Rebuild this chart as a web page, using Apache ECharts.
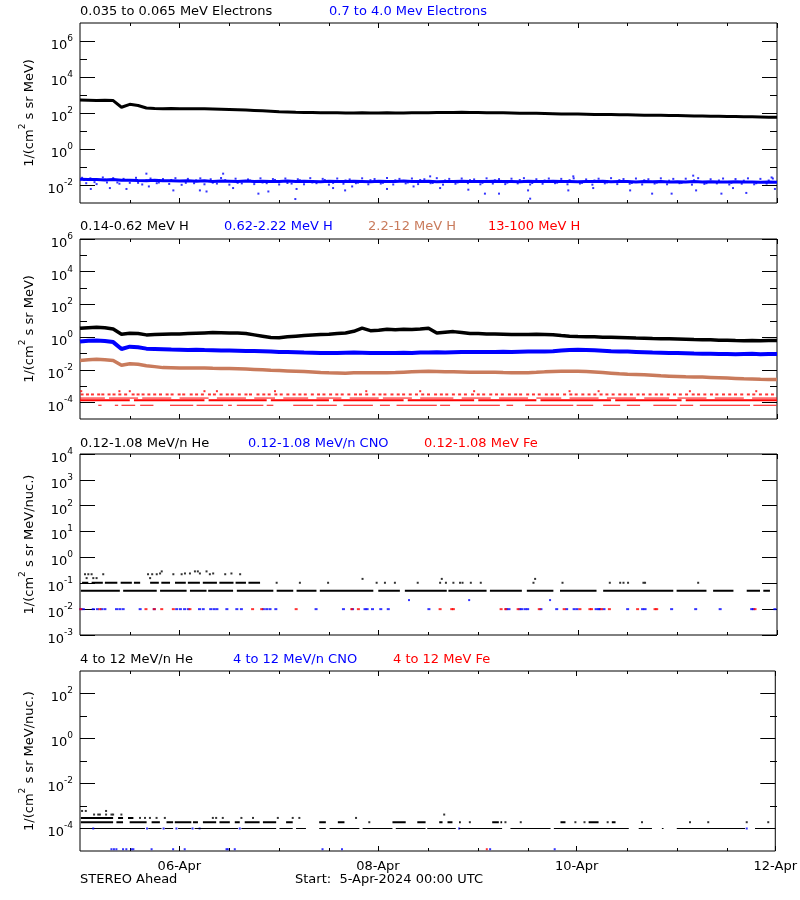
<!DOCTYPE html>
<html><head><meta charset="utf-8">
<script src="https://cdn.jsdelivr.net/npm/echarts@6/dist/echarts.min.js"></script>
<style>html,body{margin:0;padding:0;background:#fff}#c{width:800px;height:900px}</style>
</head><body><div id="c"></div>
<script>
// ---------------- DATA (log10 of flux; x in hours since 5-Apr-2024 00:00 UTC) ----------------
const STEP_H = 2;           // sampling of the continuous series (hours)
const X_MAX_H = 168;        // 7 days

const xLabelHours = [24, 72, 120, 168];
const xLabelTexts = ['06-Apr', '08-Apr', '10-Apr', '12-Apr'];
const xMinorHours = [12, 36, 48, 60, 84, 96, 108, 132, 144, 156];

const panelTitles = [
  [['0.035 to 0.065 MeV Electrons', 'k'], ['0.7 to 4.0 Mev Electrons', 'b']],
  [['0.14-0.62 MeV H', 'k'], ['0.62-2.22 MeV H', 'b'], ['2.2-12 MeV H', 'o'], ['13-100 MeV H', 'r']],
  [['0.12-1.08 MeV/n He', 'k'], ['0.12-1.08 MeV/n CNO', 'b'], ['0.12-1.08 MeV Fe', 'r']],
  [['4 to 12 MeV/n He', 'k'], ['4 to 12 MeV/n CNO', 'b'], ['4 to 12 MeV Fe', 'r']]
];
const footerLeft = 'STEREO Ahead';
const footerMid = 'Start:  5-Apr-2024 00:00 UTC';

// Panel 1: electrons
const elecLow = [
  2.72, 2.71, 2.70, 2.71, 2.69, 2.32, 2.48, 2.42, 2.28, 2.25, 2.24, 2.25,
  2.24, 2.23, 2.24, 2.23, 2.22, 2.21, 2.20, 2.18, 2.16, 2.14, 2.12, 2.10,
  2.07, 2.06, 2.04, 2.03, 2.03, 2.02, 2.01, 2.01, 2.00, 2.00, 2.01, 2.00,
  2.00, 2.01, 2.00, 2.00, 2.01, 2.02, 2.02, 2.03, 2.03, 2.03, 2.04, 2.03,
  2.03, 2.02, 2.02, 2.01, 2.00, 1.99, 1.98, 1.98, 1.97, 1.96, 1.95, 1.95,
  1.94, 1.93, 1.92, 1.91, 1.91, 1.90, 1.90, 1.89, 1.88, 1.88, 1.87, 1.86,
  1.86, 1.85, 1.84, 1.83, 1.82, 1.82, 1.81, 1.80, 1.79, 1.79, 1.78, 1.77,
  1.76
];
const elecHigh = [
  -1.68, -1.70, -1.69, -1.72, -1.70, -1.74, -1.73, -1.75, -1.76, -1.74, -1.77, -1.76,
  -1.78, -1.76, -1.79, -1.77, -1.80, -1.78, -1.79, -1.81, -1.78, -1.80, -1.79, -1.81,
  -1.80, -1.78, -1.81, -1.79, -1.80, -1.82, -1.79, -1.80, -1.81, -1.79, -1.80, -1.82,
  -1.79, -1.81, -1.80, -1.78, -1.81, -1.80, -1.79, -1.82, -1.80, -1.81, -1.79, -1.80,
  -1.81, -1.80, -1.79, -1.81, -1.80, -1.82, -1.79, -1.81, -1.80, -1.79, -1.81, -1.80,
  -1.82, -1.80, -1.81, -1.79, -1.82, -1.80, -1.81, -1.83, -1.80, -1.82, -1.81, -1.83,
  -1.82, -1.84, -1.81, -1.83, -1.82, -1.84, -1.83, -1.82, -1.84, -1.83, -1.85, -1.84,
  -1.85
];
const elecHighSpread = [
  [0.5,-1.6],[1.5,-1.9],[2.5,-1.63],[4,-1.95],[5.5,-1.58],[6.5,-1.86],[8,-1.62],[9.5,-1.93],[10.5,-1.66],[12,-1.88],
  [13.5,-1.6],[15,-1.97],[17,-1.64],[18.5,-1.9],[20,-1.67],[21.5,-1.94],[23,-1.62],[24.5,-1.99],[26,-1.66],[27.5,-1.9],
  [29,-1.63],[30,-1.96],[31.5,-1.68],[33,-1.92],[34,-1.61],[36,-1.98],[37.5,-1.65],[39,-1.91],[40.5,-1.69],[42,-1.95],
  [43.5,-1.63],[45,-1.9],[46.5,-1.67],[48,-1.97],[49.5,-1.64],[51,-1.92],[52.5,-1.68],[54,-1.96],[55.5,-1.62],[57,-1.9],
  [58.5,-1.66],[60,-1.98],[62,-1.64],[63.5,-1.93],[65,-1.69],[66.5,-1.9],[68,-1.63],[69.5,-1.96],[71,-1.67],[72.5,-1.92],
  [74,-1.61],[75.5,-1.97],[77,-1.66],[78.5,-1.91],[80,-1.64],[81.5,-1.95],[83,-1.68],[84.5,-1.9],[86,-1.62],[87.5,-1.98],
  [89,-1.66],[90.5,-1.93],[92,-1.64],[93.5,-1.9],[95,-1.69],[96.5,-1.96],[98,-1.63],[99.5,-1.92],[101,-1.67],[102.5,-1.95],
  [104,-1.65],[105.5,-1.91],[107,-1.62],[108.5,-1.97],[110,-1.68],[111.5,-1.93],[113,-1.64],[114.5,-1.9],[116,-1.66],[117.5,-1.96],
  [119,-1.63],[120.5,-1.92],[122,-1.69],[123.5,-1.98],[125,-1.65],[126.5,-1.91],[128,-1.62],[129.5,-1.95],[131,-1.67],[132.5,-1.93],
  [134,-1.64],[135.5,-1.97],[137,-1.68],[138.5,-1.92],[140,-1.63],[141.5,-1.96],[143,-1.66],[144.5,-1.9],[146,-1.65],[147.5,-1.98],
  [149,-1.62],[150.5,-1.94],[152,-1.68],[153.5,-1.91],[155,-1.64],[156.5,-1.97],[158,-1.67],[159.5,-1.93],[161,-1.63],[162.5,-1.96],
  [164,-1.66],[165.5,-1.92],[167,-1.64],
  [1,-1.72],[3.5,-1.84],[6,-1.7],[9,-1.86],[11.5,-1.72],[14,-1.88],[16,-1.74],[19,-1.86],[22,-1.72],[25.5,-1.88],
  [28,-1.74],[32,-1.87],[35,-1.73],[38,-1.88],[41,-1.75],[44,-1.86],[47,-1.72],[50,-1.89],[53,-1.74],[56,-1.86],
  [59,-1.72],[61,-1.88],[64,-1.75],[67,-1.87],[70,-1.73],[73,-1.88],[76,-1.74],[79,-1.86],[82,-1.72],[85,-1.89],
  [88,-1.75],[91,-1.86],[94,-1.73],[97,-1.88],[100,-1.74],[103,-1.87],[106,-1.72],[109,-1.89],[112,-1.75],[115,-1.87],
  [118,-1.73],[121,-1.88],[124,-1.75],[127,-1.86],[130,-1.73],[133,-1.89],[136,-1.74],[139,-1.87],[142,-1.76],[145,-1.88],
  [148,-1.74],[151,-1.9],[154,-1.75],[157,-1.88],[160,-1.76],[163,-1.9],[166,-1.75]
];
const elecHighOutliers = [
  [2.6,-2.22],[7.2,-2.17],[11.2,-2.22],[16.6,-2.08],[22.5,-2.3],[28.9,-2.3],[30.5,-2.36],[36.9,-2.17],[43,-2.48],[45.4,-2.36],
  [52.2,-2.22],[51.9,-2.78],[61,-2.17],[63.9,-2.3],[65.6,-2.08],[74,-2.22],[80.4,-2.08],[86.8,-2.17],[93.6,-2.26],[97.6,-2.48],
  [101,-2.48],[108.5,-2.76],[108,-2.3],[117.7,-2.3],[123.7,-2.17],[132.6,-2.3],[137.9,-2.48],[142.6,-2.48],[148.5,-2.3],[154.6,-2.48],
  [157.4,-2.17],[160.6,-2.44],[167.5,-2.22],[16,-1.37],[34.5,-1.37],[84.4,-1.52],[118.9,-1.52],[147.8,-1.48],[166.7,-1.58]
];

// Panel 2: protons
const hLow = [
  0.55, 0.58, 0.60, 0.57, 0.50, 0.18, 0.24, 0.22, 0.14, 0.16, 0.18, 0.20,
  0.20, 0.22, 0.24, 0.26, 0.28, 0.27, 0.26, 0.25, 0.22, 0.14, 0.06, -0.02,
  -0.04, 0.02, 0.06, 0.10, 0.13, 0.16, 0.18, 0.22, 0.26, 0.36, 0.55, 0.40,
  0.42, 0.48, 0.46, 0.48, 0.47, 0.50, 0.55, 0.26, 0.30, 0.34, 0.28, 0.22,
  0.22, 0.20, 0.19, 0.18, 0.16, 0.17, 0.16, 0.18, 0.17, 0.15, 0.10, 0.06,
  0.04, 0.03, 0.02, 0.00, -0.01, -0.02, -0.03, -0.05, -0.06, -0.08, -0.09, -0.10,
  -0.11, -0.12, -0.14, -0.15, -0.16, -0.18, -0.19, -0.21, -0.22, -0.21, -0.22, -0.20,
  -0.20
];
const hMid = [
  -0.27, -0.22, -0.20, -0.24, -0.30, -0.72, -0.58, -0.62, -0.70, -0.72, -0.74, -0.76,
  -0.77, -0.78, -0.77, -0.79, -0.80, -0.81, -0.82, -0.83, -0.84, -0.85, -0.86, -0.88,
  -0.90, -0.91, -0.92, -0.94, -0.95, -0.96, -0.97, -0.96, -0.95, -0.94, -0.95, -0.96,
  -0.97, -0.96, -0.97, -0.95, -0.96, -0.94, -0.93, -0.92, -0.93, -0.92, -0.91, -0.91,
  -0.90, -0.91, -0.90, -0.89, -0.90, -0.89, -0.88, -0.88, -0.87, -0.86, -0.82, -0.78,
  -0.77, -0.78, -0.80, -0.83, -0.86, -0.87, -0.88, -0.90, -0.92, -0.94, -0.95, -0.96,
  -0.97, -0.98, -1.00, -1.01, -1.02, -1.03, -1.03, -1.04, -1.03, -1.02, -1.04, -1.03,
  -1.03
];
const hHigh = [
  -1.42, -1.38, -1.35, -1.38, -1.42, -1.72, -1.62, -1.66, -1.74, -1.80, -1.86, -1.87,
  -1.88, -1.88, -1.89, -1.88, -1.90, -1.91, -1.92, -1.93, -1.95, -1.97, -1.99, -2.02,
  -2.04, -2.06, -2.08, -2.10, -2.13, -2.16, -2.18, -2.19, -2.20, -2.18, -2.17, -2.18,
  -2.18, -2.17, -2.16, -2.14, -2.12, -2.10, -2.08, -2.09, -2.11, -2.12, -2.13, -2.14,
  -2.14, -2.15, -2.14, -2.16, -2.17, -2.18, -2.17, -2.15, -2.12, -2.10, -2.08, -2.08,
  -2.08, -2.10, -2.13, -2.16, -2.20, -2.24, -2.27, -2.28, -2.30, -2.33, -2.36, -2.38,
  -2.40, -2.42, -2.43, -2.44, -2.46, -2.48, -2.50, -2.52, -2.54, -2.55, -2.57, -2.58,
  -2.59
];
// 13-100 MeV H: quantized count levels (log10 flux) with their hour-segments / single hours
const hTopLevels = [-4.16, -3.86, -3.72, -3.5, -3.3];
const hTopSegL0 = [[4.4,5.2],[8.4,9.2],[10,13.3],[14.5,17.7],[21.7,27.3],[28.1,34.5],[35.7,36.6],[37.8,44.2],[45,46.6],[51.4,56.2],[57,61.9],[63.5,70.6],[72.3,74.7],[76.3,86],[86.8,89.2],[91.6,101.2],[102.8,104.4],[107.3,118.9],[119.7,123.7],[126.1,130.2],[131.8,135],[138.2,143.8],[144.6,147.8],[149.4,161.5],[162.3,167.9]];
const hTopSegL1 = [[0,12],[13,30],[31,45],[46,60],[61,78],[79,95],[96,110],[111,128],[129,145],[146,168]];
const hTopSegL2 = [[0,6],[7,14],[15,22],[24,31],[33,40],[42,47],[49,55],[57,63],[65,72],[73,80],[82,90],[92,99],[101,108],[110,116],[118,125],[127,134],[136,142],[144,151],[153,160],[162,168]];
const hTopDotsL3 = [0.5,1.8,3,4.5,5.5,7,8.2,9.6,11,12.8,14,15.2,16.6,18,19.4,21,22.2,23.9,25,26.8,28.1,29.5,31.2,32.4,34,35.5,36.7,38.4,40,41.1,42.9,44.3,45.6,47.2,48.5,50.1,51.6,53,54.3,56,57.5,58.8,60.4,61.9,63.2,64.8,66.4,67.6,69.1,70.8,72.3,73.5,75.2,76.7,78,79.6,81.1,82.6,84,85.7,87.1,88.4,90,91.5,92.9,94.6,96,97.3,99,100.4,101.8,103.5,105,106.2,107.9,109.3,110.7,112.4,113.8,115.1,116.8,118.3,119.6,121.2,122.7,124.1,125.6,127,128.5,130.1,131.4,132.9,134.5,135.8,137.4,138.9,140.2,141.8,143.3,144.7,146.2,147.8,149.1,150.6,152.2,153.5,155.1,156.6,158,159.5,161.1,162.4,164,165.5,166.9];
const hTopDotsL4 = [0.3,9.5,12,30,33,47,69,82,95,118,125,147,163];

// Panel 3: 0.12-1.08 MeV/n heavy ions
const heLevels = [-1.29, -0.98];
const heSegL0 = [[0.2,9.6],[10.4,18.5],[19.3,25.7],[26.5,30.5],[30.9,36.9],[37.8,46.6],[47.4,51.4],[52.2,57],[57.8,70.7],[71.9,77.1],[78.3,88.4],[88.8,98],[98.8,106.5],[107.7,114.1],[115.7,124.5],[126.1,143],[143.8,151],[152.6,157.5],[160.7,163.9],[164.7,166.3]];
const heSegL1 = [[0.5,2],[2.8,5.5],[6,9],[9.8,12.5],[13,14.5],[16.9,19],[19.6,21.7],[22.9,25.5],[26,28.9],[29.6,33],[33.6,37],[37.5,40],[40.6,43.4]];
const heDotsL1 = [47.4,53,59.8,71.5,73.5,75.9,81.4,86.8,88.2,90,91.6,92.2,94.2,96.6,109.3,116.3,127.7,130.2,131,132.1,135.8,136.2,149];
const heUpper = [[1.2,-0.65],[2,-0.65],[2.8,-0.65],[5.6,-0.65],[16.4,-0.65],[17.4,-0.65],[18.5,-0.65],[19.3,-0.62],[22.5,-0.65],[24.5,-0.65],[25.3,-0.62],[26.5,-0.62],[27.7,-0.54],[28.4,-0.54],[28.9,-0.62],[30.5,-0.54],[31.3,-0.65],[32.1,-0.62],[35,-0.65],[36.5,-0.62],[38.6,-0.65],[1.6,-0.8],[3.2,-0.8],[4,-0.8],[16.9,-0.8],[19.7,-0.54],[68.1,-0.83],[87.2,-0.83],[109.7,-0.83]];
const cnoLowLevel = -2.0;
const cnoLowHours = [0.2,0.8,3.2,4.2,5.2,6,8.8,9.6,10.4,14.5,17.9,23.3,24.2,25.2,26.1,28.8,29.7,31.5,32.3,33,35.4,37.8,38.9,44.2,45,45.8,47.2,56.9,63.5,65.7,68.7,69.2,70.5,72.5,74.3,84.1,102.8,103.4,106,106.5,107.3,107.9,111.1,114.9,117.3,119.1,119.8,124.4,125,125.3,126.3,132,135.6,136.2,142.6,148.4,154.3,161.9,162.3,167.5];
const cnoLowUpper = [[79.3,-1.65],[93.8,-1.65],[113.3,-1.65]];
const feLowLevel = -2.0;
const feLowHours = [0.2,4.8,15.9,17.9,19.7,22.5,26.5,41.6,43.8,52.1,65.5,67.1,86.8,89.6,90,101.5,102.6,105.6,110.7,116.7,120.5,122.9,123.3,125.7,127.6,134.4,138.6,139,162.7];

// Panel 4: 4-12 MeV/n heavy ions
const he4Levels = [-4.0, -3.72, -3.53, -3.38, -3.22];
const he4SegL0 = [[0.4,2.8],[3.6,15.7],[16.5,19.7],[20.5,22.5],[23.7,26.9],[27.7,38.2],[39,47.4],[48.2,51.4],[52.2,54.6],[57.8,59.4],[60.3,67.5],[68.3,75.5],[76.3,83.5],[83.9,90.8],[91.6,102],[104,113.7],[114.5,132.6],[135,138.2],[140.6,141],[144.2,160.7],[163.1,167.9]];
const he4SegL1 = [[0.2,8],[8.8,10.4],[12,16.1],[17.3,19.3],[20.9,22.5],[22.9,26.9],[27.3,28.5],[29.7,32.9],[33.7,36.2],[37.4,38.6],[39.8,43.4],[44.2,47.4],[49.8,51.4],[57.8,59.4],[62.3,63.9],[75.5,78.7],[81.5,83.5],[86.8,87.6],[88.8,90],[91.6,92],[99.6,101.2],[101.6,102],[116.1,117.3],[122.9,125.3],[128.5,129.4]];
const he4DotsL1 = [69.9,94.2,102.8,106.5,119.7,121.9,127.5,135.8,147.4,151.8,161.1,166.3];
const he4SegL2 = [[0.2,8],[9.2,10.4],[11.6,12.9]];
const he4DotsL2 = [14.5,15.7,16.9,18.5,20.5,32.1,32.9,34.5,39,41.8,47.8,51.4,53,66.7];
const he4DotsL3 = [3.4,4.4,4.8,6.3,7.6,8,10,88];
const he4DotsL4 = [0.5,1.4,6.3];
const cno4Levels = [-4.92, -4.0];
const cno4HoursL0 = [7.6,8.2,8.8,10.4,11.2,12.5,12.9,17.3,22.5,25.3,35.4,35.7,37.4,58.6,63.3,99.1,114.7];
const cno4HoursL1 = [3.2,16.2,20.2,23.3,27.2,28.9,38.6,91.6,161.1];
const fe4Level = -4.92;
const fe4Hours = [98.3];

// ---------------- LAYOUT / STYLE ----------------
const FONT = '"DejaVu Sans", sans-serif';
const COL = { k: '#000000', b: '#0000ff', o: '#c97b5c', r: '#ff0000' };
const PANELS = [
  { top: 23, height: 180, ymin: -3, ymax: 7, major: [-2, 0, 2, 4, 6], minor: [-1, 1, 3, 5], unit: 'MeV' },
  { top: 239, height: 180, ymin: -5, ymax: 6, major: [-4, -2, 0, 2, 4, 6], minor: [-3, -1, 1, 3, 5], unit: 'MeV' },
  { top: 454, height: 181, ymin: -3, ymax: 4, major: [-3, -2, -1, 0, 1, 2, 3, 4], minor: [], unit: 'MeV/nuc.' },
  { top: 671, height: 180, ymin: -5, ymax: 3, major: [-4, -2, 0, 2], minor: [-3, -1, 1], unit: 'MeV/nuc.' }
];
const titleLeft = [[80, 329], [80, 224, 368, 488], [80, 248, 424], [80, 233, 393]];
const titleTop = [5, 220, 437, 653];

const grids = [], xAxes = [], yAxes = [], series = [];
const sup = { fontSize: 9, lineHeight: 7, verticalAlign: 'top', color: '#000', fontFamily: FONT };
const base = { fontSize: 13, lineHeight: 18, verticalAlign: 'bottom', color: '#000', fontFamily: FONT };

PANELS.forEach((p, pi) => {
  const isLast = pi === PANELS.length - 1;
  [0, 1].forEach(layer => {
    const gi = grids.length;
    grids.push({ left: 80, right: 23, top: p.top, height: p.height, show: layer === 0,
      borderColor: '#000', borderWidth: 1, backgroundColor: 'transparent', containLabel: false });
    const xTicks = layer === 0 ? xLabelHours : xMinorHours;
    const xLen = layer === 0 ? 5 : 3;
    ['bottom', 'top'].forEach(pos => {
      xAxes.push({
        type: 'value', gridIndex: gi, position: pos, min: 0, max: X_MAX_H,
        axisLine: { show: false, onZero: false }, splitLine: { show: false },
        axisTick: { show: true, inside: true, length: xLen, customValues: xTicks, lineStyle: { color: '#000', width: 1 } },
        axisLabel: (layer === 0 && pos === 'bottom' && isLast) ? {
          show: true, customValues: xLabelHours, margin: 9, color: '#000', fontSize: 13, fontFamily: FONT,
          formatter: v => xLabelTexts[xLabelHours.indexOf(v)] || ''
        } : { show: false }
      });
    });
    const yTicks = layer === 0 ? p.major : p.minor;
    const yLen = layer === 0 ? 15 : 7;
    ['left', 'right'].forEach(pos => {
      const ax = {
        type: 'value', gridIndex: gi, position: pos, min: p.ymin, max: p.ymax,
        axisLine: { show: false, onZero: false }, splitLine: { show: false },
        axisTick: { show: yTicks.length > 0, inside: true, length: yLen, customValues: yTicks.length ? yTicks : undefined, lineStyle: { color: '#000', width: 1 } },
        axisLabel: { show: false }
      };
      if (layer === 0 && pos === 'left') {
        ax.axisLabel = { show: true, customValues: p.major, margin: 7, padding: [4, 0, 0, 0],
          formatter: v => '{b|10}{s|' + v + '}', rich: { b: base, s: sup } };
        ax.name = '{b|1/(cm}{s|2}{b| s sr ' + p.unit + ')}';
        ax.nameLocation = 'middle';
        ax.nameGap = 30;
        ax.nameTextStyle = { rich: { b: base, s: sup } };
      }
      yAxes.push(ax);
    });
  });
});

function sampled(vals) { return vals.map((v, i) => [i * STEP_H, v]); }
function segData(segs, level) {
  const d = [];
  segs.forEach(s => { d.push([s[0], level], [s[1], level], [s[1], '-']); });
  return d;
}
function dotData(hours, level) { return hours.map(h => [h, level]); }
function axisOf(pi) { return { xAxisIndex: pi * 4, yAxisIndex: pi * 4 }; }
function line(pi, data, color, width) {
  return Object.assign({ type: 'line', data, symbol: 'none', showSymbol: false, connectNulls: false, silent: true,
    animation: false, lineStyle: { color, width }, itemStyle: { color } }, axisOf(pi));
}
function dots(pi, data, color, size) {
  return Object.assign({ type: 'scatter', data, symbol: 'rect', symbolSize: size || [2, 2], silent: true,
    animation: false, itemStyle: { color } }, axisOf(pi));
}

// Panel 1
series.push(line(0, sampled(elecHigh), COL.b, 3));
series.push(dots(0, elecHighSpread, COL.b, [2, 2]));
series.push(dots(0, elecHighOutliers, COL.b, [2, 2]));
series.push(line(0, sampled(elecLow), COL.k, 3));
// Panel 2
series.push(line(1, sampled(hLow), COL.k, 3.5));
series.push(line(1, sampled(hMid), COL.b, 4));
series.push(line(1, sampled(hHigh), COL.o, 3.5));
series.push(line(1, segData(hTopSegL0, hTopLevels[0]), COL.r, 1));
series.push(line(1, segData(hTopSegL1, hTopLevels[1]), COL.r, 2));
series.push(line(1, segData(hTopSegL2, hTopLevels[2]), COL.r, 1));
series.push(dots(1, dotData(hTopDotsL3, hTopLevels[3]), COL.r, [3, 2]));
series.push(dots(1, dotData(hTopDotsL4, hTopLevels[4]), COL.r, [2, 2]));
// Panel 3
series.push(line(2, segData(heSegL0, heLevels[0]), COL.k, 2));
series.push(line(2, segData(heSegL1, heLevels[1]), COL.k, 2));
series.push(dots(2, dotData(heDotsL1, heLevels[1]), COL.k, [2, 2]));
series.push(dots(2, heUpper, COL.k, [2, 2]));
series.push(dots(2, dotData(cnoLowHours, cnoLowLevel), COL.b, [3, 2]));
series.push(dots(2, cnoLowUpper, COL.b, [2, 2]));
series.push(dots(2, dotData(feLowHours, feLowLevel), COL.r, [3, 2]));
// Panel 4
series.push(line(3, segData(he4SegL0, he4Levels[0]), COL.k, 1));
series.push(line(3, segData(he4SegL1, he4Levels[1]), COL.k, 2));
series.push(dots(3, dotData(he4DotsL1, he4Levels[1]), COL.k, [2, 2]));
series.push(line(3, segData(he4SegL2, he4Levels[2]), COL.k, 2));
series.push(dots(3, dotData(he4DotsL2, he4Levels[2]), COL.k, [2, 2]));
series.push(dots(3, dotData(he4DotsL3, he4Levels[3]), COL.k, [2, 2]));
series.push(dots(3, dotData(he4DotsL4, he4Levels[4]), COL.k, [2, 2]));
series.push(dots(3, dotData(cno4HoursL0, cno4Levels[0]), COL.b, [2, 2]));
series.push(dots(3, dotData(cno4HoursL1, cno4Levels[1]), COL.b, [2, 2]));
series.push(dots(3, dotData(fe4Hours, fe4Level), COL.r, [2, 2]));

const graphic = [];
panelTitles.forEach((row, pi) => {
  row.forEach((t, ti) => {
    graphic.push({ type: 'text', left: titleLeft[pi][ti], top: titleTop[pi], silent: true,
      style: { text: t[0], fill: COL[t[1]], font: '13px ' + FONT } });
  });
});
graphic.push({ type: 'text', left: 80, top: 873, silent: true, style: { text: footerLeft, fill: '#000', font: '13px ' + FONT } });
graphic.push({ type: 'text', left: 295, top: 873, silent: true, style: { text: footerMid, fill: '#000', font: '13px ' + FONT } });

const chart = echarts.init(document.getElementById('c'), null, { renderer: 'canvas' });
chart.setOption({
  backgroundColor: '#ffffff',
  animation: false,
  textStyle: { fontFamily: FONT },
  grid: grids, xAxis: xAxes, yAxis: yAxes, series, graphic
});
</script></body></html>
